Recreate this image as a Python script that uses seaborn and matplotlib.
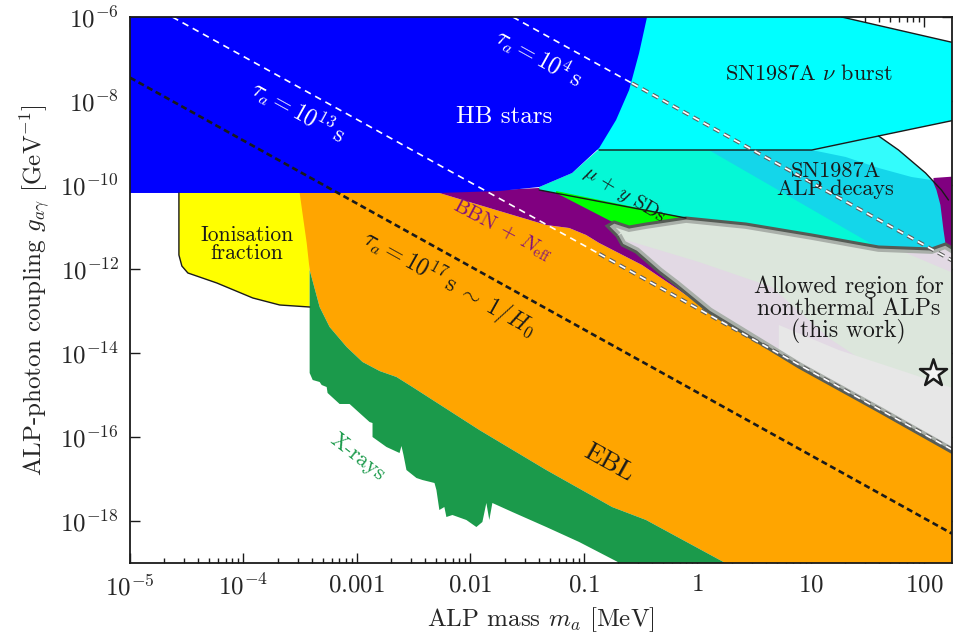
import numpy as np
import matplotlib
matplotlib.use("Agg")
import matplotlib.pyplot as plt
import matplotlib.patheffects as pe
from matplotlib.ticker import FixedLocator, NullLocator, LogLocator, NullFormatter
import seaborn as sns

# ---------------- data (log10 m_a [MeV], log10 g [GeV^-1]) ----------------
xticks = [1e-5, 1e-4, 1e-3, 1e-2, 1e-1, 1, 10, 100]
xticklabels = [r'$10^{-5}$', r'$10^{-4}$', r'$0.001$', r'$0.01$', r'$0.1$', r'$1$', r'$10$', r'$100$']
yticks = [1e-6, 1e-8, 1e-10, 1e-12, 1e-14, 1e-16, 1e-18]
yticklabels = [r'$10^{-6}$', r'$10^{-8}$', r'$10^{-10}$', r'$10^{-12}$', r'$10^{-14}$', r'$10^{-16}$', r'$10^{-18}$']

# EBL (orange)
ebl_lm = [-3.505, -2.274, -2.010, -1.332, -1.130, -0.981, -0.866, -0.488, -0.163, 0.101, 0.893, 1.596, 2.3,
          2.3, 0.45]
ebl_lg = [-10.19, -10.19, -10.405, -10.952, -11.024, -11.190, -11.381, -11.905, -12.5, -13.024, -14.333, -15.381, -16.452,
          -19.3, -19.3]
# X-rays upper edge (left -> right) and lower edge (left -> right)
xr_up_lm = [-3.417, -3.329, -3.241, -3.091, -2.951, -2.800, -2.652, -2.511, -1.922, -1.332, -0.752, -0.453, 0.45]
xr_up_lg = [-12.024, -12.905, -13.381, -13.857, -14.214, -14.43, -14.571, -14.810, -15.833, -16.786, -17.667, -17.976, -19.3]
xr_lo_lm = [-3.417, -3.417, -3.390, -3.329, -3.311, -3.267, -3.259, -3.153, -3.065, -2.977, -2.889, -2.863, -2.863,
            -2.740, -2.625, -2.608, -2.590, -2.564, -2.476, -2.423, -2.317, -2.300, -2.274, -2.230, -2.212, -2.159,
            -2.036, -1.948, -1.895, -1.860, -1.834, -1.807, -1.631, -1.332, -1.042, -0.47]
xr_lo_lg = [-12.024, -14.476, -14.643, -14.690, -14.762, -14.810, -14.952, -15.214, -15.214, -15.429, -15.643, -15.667, -16.000,
            -16.238, -16.381, -16.214, -16.429, -16.786, -16.976, -17.024, -17.095, -17.262, -17.738, -17.667, -17.905, -17.857,
            -17.976, -18.143, -18.024, -17.571, -17.976, -17.571, -17.786, -18.143, -18.500, -19.3]
ebl_left_lm = [-3.443, -3.478]
ebl_left_lg = [-11.381, -10.714]

# Ionisation fraction (yellow)
ion_lm = [-3.417, -4.569, -4.569, -4.543, -4.490, -4.235, -3.918, -3.681, -3.417]
ion_lg = [-10.19, -10.19, -11.667, -11.929, -12.095, -12.333, -12.690, -12.857, -12.905]

# BBN + N_eff (purple)
bbn_lm = [-2.274, -1.746, -1.394, -0.075, 0.013, 0.101, -0.163, -0.488, -0.866, -0.981, -1.130, -1.332, -2.010, -2.274]
bbn_lg = [-10.167, -10.119, -10.071, -10.738, -11.31, -13.0, -12.5, -11.905, -11.381, -11.190, -11.024, -10.952, -10.405, -10.19]
bbn2_lm = [2.080, 2.3, 2.3, 2.194, 2.168, 2.141, 2.106, 2.08]
bbn2_lg = [-9.833, -9.79, -11.70, -11.548, -11.071, -10.476, -10.119, -9.95]

# HB stars (blue)
hb_lm = [-5.1, -0.444, -0.514, -0.602, -0.717, -0.866, -1.104, -1.394, -1.746, -2.274, -5.1]
hb_lg = [-6.0, -6.0, -6.857, -7.738, -8.452, -9.119, -9.714, -10.048, -10.143, -10.19, -10.19]

# SN1987A nu burst (cyan)
snb_lm = [-1.218, 1.271, 2.3, 2.3, 1.596, 1.007, -1.218]
snb_lg = [-6.0, -6.0, -6.638, -8.436, -8.833, -9.167, -9.167]

# SN1987A ALP decays (three shades)
snd_lm = [-1.394, -1.104, -0.866, 1.007, 1.596, 1.772, 2.010, 2.150, 2.3, 2.3, 1.596, 1.007, 0.427, -0.101, -1.394]
snd_lg = [-10.048, -9.714, -9.143, -9.167, -8.833, -9.167, -9.714, -10.119, -10.119, -11.7, -11.5, -11.190, -10.952, -10.786, -10.119]
snd2_lm = [0.101, 1.007, 1.596, 1.772, 2.010, 2.150, 2.3, 2.3, 1.596]
snd2_lg = [-9.167, -9.167, -8.833, -9.167, -9.714, -10.119, -10.119, -11.7, -11.5]
snd3_lm = [1.007, 1.596, 1.772, 2.010, 2.062, 1.887, 1.596, 1.306]
snd3_lg = [-9.167, -8.833, -9.167, -9.714, -9.881, -9.810, -9.595, -9.333]
jag_lm = [1.596, 1.772, 2.010, 2.150, 2.212]
jag_lg = [-8.833, -9.167, -9.714, -10.119, -10.357]

# mu + y spectral distortions (green)
muy_lm = [-1.245, -0.075, -0.075, -0.629, -1.245]
muy_lg = [-10.143, -10.798, -11.19, -11.048, -10.19]
muy_line_lm = [-1.394, -0.101]
muy_line_lg = [-10.119, -10.786]

# Allowed region (this work)
alw_lm = [-0.708, -0.796, -0.734, -0.602, -0.453, -0.101, 0.427, 1.007, 1.596, 2.062, 2.186, 2.3,
          2.3, 1.596, 0.893, 0.101, -0.189, -0.339, -0.541, -0.664]
alw_lg = [-11.214, -10.976, -10.881, -11.0, -10.929, -10.786, -10.929, -11.190, -11.476, -11.524, -11.405, -11.595,
          -16.452, -15.381, -14.333, -13.024, -12.381, -12.071, -11.595, -11.429]
lav_lm = [-0.690, 0.013, 0.655, 1.157, 1.447, 1.447, -0.690]
lav_lg = [-11.262, -11.833, -12.429, -13.643, -14.167, -15.595, -13.214]
gry_lm = [0.717, 1.245, 1.834, 2.3, 2.3, 0.717]
gry_lg = [-13.333, -13.929, -14.452, -14.881, -16.786, -14.643]
lav2_lm = [1.772, 2.3, 2.3]
lav2_lg = [-11.548, -11.548, -12.143]

# lifetime lines (end points)
tau17_m = [1e-5, 175.0]
tau17_g = [3.6e-8, 5.0e-19]
tau13_m = [2.36e-5, 0.136, 175.0]
tau13_g = [1e-6, 2.3e-12, 5.0e-17]
tau4_m = [0.0236, 0.265, 175.0]
tau4_g = [1e-6, 2.65e-8, 1.6e-12]

star_m = [119.0]
star_g = [3.3e-15]

# ---------------- style ----------------
sns.set_theme(style='ticks')
plt.rcParams.update({
    'font.family': ['cmr10', 'DejaVu Serif'],
    'mathtext.fontset': 'cm',
    'axes.formatter.use_mathtext': True,
    'axes.unicode_minus': False,
})

fig = plt.figure(figsize=(9.55, 6.41), dpi=100)
ax = fig.add_axes([130 / 955, 1 - 563 / 641, 822 / 955, 546 / 641])
ax.set_xscale('log')
ax.set_yscale('log')
ax.set_xlim(1e-5, 175)
ax.set_ylim(1e-19, 1e-6)


def P(a):
    return 10 ** np.asarray(a, dtype=float)


def fill(lm, lg, color, z, **kw):
    return ax.fill(P(lm), P(lg), color=color, lw=0, zorder=z, **kw)[0]


C_ORANGE = '#FFA500'
C_XRAY = '#1B9A4B'
C_YELLOW = '#FFFF00'
C_PURPLE = '#800080'
C_BLUE = '#0000FF'
C_CYAN = '#00FFFF'
C_AQUA = '#05F8D6'
C_SKY = '#14D6EA'
C_LCYAN = '#33FCFC'
C_GREEN = '#00FF00'

fill(ion_lm, ion_lg, C_YELLOW, 0.98)
ebl_x = list(ebl_lm) + xr_up_lm[::-1][1:] + ebl_left_lm
ebl_y = list(ebl_lg) + xr_up_lg[::-1][1:] + ebl_left_lg
fill(ebl_x, ebl_y, C_ORANGE, 1.00)
fill(xr_up_lm + xr_lo_lm[::-1], xr_up_lg + xr_lo_lg[::-1], C_XRAY, 1.02)
fill(bbn_lm, bbn_lg, C_PURPLE, 1.06)
fill(snb_lm, snb_lg, C_CYAN, 1.08)
fill(snd_lm, snd_lg, C_AQUA, 1.10)
fill(snd2_lm, snd2_lg, C_SKY, 1.12)
fill(snd3_lm, snd3_lg, C_LCYAN, 1.14)
fill(bbn2_lm, bbn2_lg, C_PURPLE, 1.16)
fill(muy_lm, muy_lg, C_GREEN, 1.18)
fill(hb_lm, hb_lg, C_BLUE, 1.20)

core = fill(alw_lm, alw_lg, '#DCE6DC', 1.30)
for lm, lg, c in [(lav_lm, lav_lg, '#E2D9E4'), (gry_lm, gry_lg, '#E7E7E7'), (lav2_lm, lav2_lg, '#E2D9E4')]:
    p = fill(lm, lg, c, 1.32)
    p.set_clip_path(core)
inner = ax.fill(P(alw_lm), P(alw_lg), fc='none', ec='#A9AFA9', lw=7, zorder=1.34)[0]
inner.set_clip_path(core)
ax.fill(P(alw_lm), P(alw_lg), fc='none', ec='#555B55', lw=2.2, zorder=1.36)

# black boundary lines
kw_b = dict(color='k', lw=1.0, zorder=1.5)
ax.plot(P(ion_lm[1:]), P(ion_lg[1:]), **kw_b)
ax.plot(P(snb_lm[1:3]), P(snb_lg[1:3]), **kw_b)
ax.plot(P([-0.866] + snb_lm[5:2:-1]), P([-9.167] + snb_lg[5:2:-1]), **kw_b)
ax.plot(P(jag_lm), P(jag_lg), **kw_b)
ax.plot(P(muy_line_lm), P(muy_line_lg), **kw_b)

# lifetime lines
sns.lineplot(x=tau17_m, y=tau17_g, ax=ax, color='k', lw=1.9, linestyle=(0, (2.3, 1.4)),
             sort=False, estimator=None, zorder=2.0)
white_kw = dict(color='white', lw=1.2, linestyle=(0, (4.0, 3.0)), sort=False, estimator=None, zorder=2.1)
outl = [pe.Stroke(linewidth=2.8, foreground='#5E5E5E'), pe.Normal()]
sns.lineplot(x=tau13_m[:2], y=tau13_g[:2], ax=ax, **white_kw)
sns.lineplot(x=tau13_m[1:], y=tau13_g[1:], ax=ax, path_effects=outl, **white_kw)
sns.lineplot(x=tau4_m[:2], y=tau4_g[:2], ax=ax, **white_kw)
sns.lineplot(x=tau4_m[1:], y=tau4_g[1:], ax=ax, path_effects=outl, **white_kw)

sns.scatterplot(x=star_m, y=star_g, ax=ax, marker='*', s=420, color='#F4F4F4',
                edgecolor='k', linewidth=1.8, zorder=2.3)

# labels
rot = -29
ax.text(0.0199, 4.2e-9, 'HB stars', color='white', fontsize=18, ha='center', va='center')
ax.text(9.6, 4.4e-8, r'SN1987A $\nu$ burst', color='k', fontsize=16, ha='center', va='center')
ax.text(16.5, 1.3e-10, 'SN1987A\nALP decays', color='k', fontsize=16, ha='center', va='center',
        linespacing=0.95)
ax.text(1.07e-4, 3.9e-12, 'Ionisation\nfraction', color='k', fontsize=15.5, ha='center', va='center',
        linespacing=0.95)
ax.text(0.0191, 8.5e-12, r'BBN + $N_{\rm eff}$', color='#80107F', fontsize=15, ha='center', va='center',
        rotation=-28)
ax.text(0.226, 5.8e-11, r'$\mu\,+\,y$ SDs', color='k', fontsize=14.5, ha='center', va='center', rotation=-31)
ax.text(21.5, 1.06e-13, 'Allowed region for\nnonthermal ALPs\n(this work)', color='k', fontsize=17,
        ha='center', va='center', linespacing=0.95)
ax.text(0.167, 2.4e-17, 'EBL', color='k', fontsize=19, ha='center', va='center', rotation=rot)
ax.text(1.01e-3, 3.3e-17, 'X-rays', color=C_XRAY, fontsize=16, ha='center', va='center', rotation=-38)
ax.text(6.5e-3, 4.6e-13, r'$\tau_a = 10^{17}\,\mathrm{s}\;\sim\;1/H_0$', color='k', fontsize=17,
        ha='center', va='center', rotation=rot)
ax.text(3.06e-4, 5.5e-9, r'$\tau_a = 10^{13}\,\mathrm{s}$', color='white', fontsize=17,
        ha='center', va='center', rotation=rot)
ax.text(0.0404, 1.12e-7, r'$\tau_a = 10^{4}\,\mathrm{s}$', color='white', fontsize=17,
        ha='center', va='center', rotation=rot)

# axes
ax.xaxis.set_major_locator(FixedLocator(xticks))
ax.set_xticklabels(xticklabels)
ax.xaxis.set_minor_locator(LogLocator(base=10, subs=np.arange(2, 10), numticks=30))
ax.xaxis.set_minor_formatter(NullFormatter())
ax.yaxis.set_major_locator(FixedLocator(yticks))
ax.set_yticklabels(yticklabels)
ax.yaxis.set_minor_locator(NullLocator())
ax.tick_params(which='both', direction='in', top=True, right=True, color='k', width=1.0)
ax.tick_params(which='major', length=7, labelsize=18, pad=8)
ax.tick_params(which='minor', length=3.5)
for s in ax.spines.values():
    s.set_linewidth(1.3)
    s.set_color('k')
ax.set_xlabel(r'ALP mass $m_a$ [MeV]', fontsize=18, labelpad=4)
ax.set_ylabel(r'ALP-photon coupling $g_{a\gamma}$ [GeV$^{-1}$]', fontsize=18, labelpad=6)

fig.savefig('out.png', dpi=100)
